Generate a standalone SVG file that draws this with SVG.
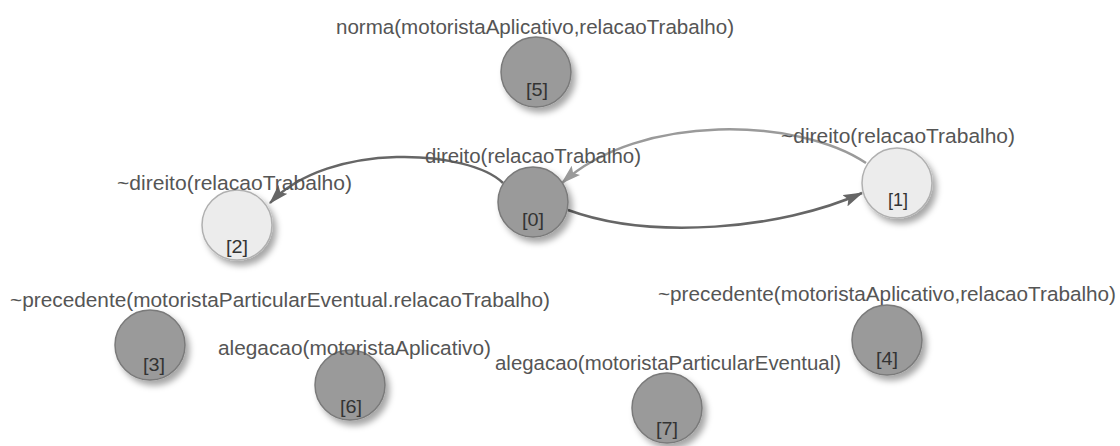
<svg xmlns="http://www.w3.org/2000/svg" width="1120" height="446" viewBox="0 0 1120 446">
<style>
.lbl{font-family:"Liberation Sans",Arial,sans-serif;font-size:20.5px;fill:#555}
.id{font-family:"Liberation Sans",Arial,sans-serif;font-size:18px;fill:#333;text-anchor:middle}
.dark{fill:#9a9a9a;stroke:#7a7a7a;stroke-width:1.5}
.light{fill:#ececec;stroke:#b0b0b0;stroke-width:1.5}
.edge{fill:none;stroke:#666;stroke-width:2.5}
.edge2{fill:none;stroke:#9a9a9a;stroke-width:2.5}
</style>
<defs>
<filter id="sh" x="-50%" y="-50%" width="200%" height="200%">
<feDropShadow dx="4" dy="5" stdDeviation="3" flood-color="#000" flood-opacity="0.35"/>
</filter>
<marker id="ah" viewBox="0 0 16 10" refX="15" refY="5" markerWidth="8" markerHeight="5" orient="auto" markerUnits="strokeWidth">
<path d="M0,0 L16,5 L0,10 L3,5 z" fill="#666"/>
</marker>
<marker id="ah2" viewBox="0 0 16 10" refX="15" refY="5" markerWidth="8" markerHeight="5" orient="auto" markerUnits="strokeWidth">
<path d="M0,0 L16,5 L0,10 L3,5 z" fill="#9a9a9a"/>
</marker>
</defs>
<rect width="1120" height="446" fill="#fff"/>
<g id="connectors">
<path class="edge" d="M503,183 C470,150 330,140 270,203" marker-end="url(#ah)"/>
<path class="edge2" d="M866,163 C800,118 640,112 562,183" marker-end="url(#ah2)"/>
<path class="edge" d="M568,210 C650,240 780,230 862,193" marker-end="url(#ah)"/>
</g>
<g id="node5">
<circle class="dark" cx="536" cy="72" r="35" filter="url(#sh)"/>
<text class="id" x="537" y="96" textLength="22" lengthAdjust="spacingAndGlyphs">[5]</text>
<text class="lbl" x="336" y="34" textLength="398" lengthAdjust="spacingAndGlyphs">norma(motoristaAplicativo,relacaoTrabalho)</text>
</g>
<g id="node0">
<circle class="dark" cx="533" cy="202" r="35" filter="url(#sh)"/>
<text class="id" x="533" y="226" textLength="22" lengthAdjust="spacingAndGlyphs">[0]</text>
<text class="lbl" x="425" y="163" textLength="216" lengthAdjust="spacingAndGlyphs">direito(relacaoTrabalho)</text>
</g>
<g id="node1">
<circle class="light" cx="897" cy="183" r="35" filter="url(#sh)"/>
<text class="id" x="898" y="206" textLength="20" lengthAdjust="spacingAndGlyphs">[1]</text>
<text class="lbl" x="781" y="143" textLength="234" lengthAdjust="spacingAndGlyphs">~direito(relacaoTrabalho)</text>
</g>
<g id="node2">
<circle class="light" cx="237" cy="225" r="35" filter="url(#sh)"/>
<text class="id" x="237" y="253" textLength="22" lengthAdjust="spacingAndGlyphs">[2]</text>
<text class="lbl" x="117" y="190" textLength="235" lengthAdjust="spacingAndGlyphs">~direito(relacaoTrabalho)</text>
</g>
<g id="node3">
<circle class="dark" cx="150" cy="345" r="35" filter="url(#sh)"/>
<text class="id" x="154" y="371" textLength="22" lengthAdjust="spacingAndGlyphs">[3]</text>
<text class="lbl" x="10" y="307" textLength="540" lengthAdjust="spacingAndGlyphs">~precedente(motoristaParticularEventual.relacaoTrabalho)</text>
</g>
<g id="node6">
<circle class="dark" cx="350" cy="385" r="35" filter="url(#sh)"/>
<text class="id" x="351" y="413" textLength="22" lengthAdjust="spacingAndGlyphs">[6]</text>
<text class="lbl" x="218" y="355" textLength="273" lengthAdjust="spacingAndGlyphs">alegacao(motoristaAplicativo)</text>
</g>
<g id="node7">
<circle class="dark" cx="667" cy="408" r="35" filter="url(#sh)"/>
<text class="id" x="667" y="435" textLength="22" lengthAdjust="spacingAndGlyphs">[7]</text>
<text class="lbl" x="495" y="370" textLength="346" lengthAdjust="spacingAndGlyphs">alegacao(motoristaParticularEventual)</text>
</g>
<g id="node4">
<circle class="dark" cx="887" cy="340" r="35" filter="url(#sh)"/>
<text class="id" x="887" y="365" textLength="22" lengthAdjust="spacingAndGlyphs">[4]</text>
<text class="lbl" x="658" y="301" textLength="458" lengthAdjust="spacingAndGlyphs">~precedente(motoristaAplicativo,relacaoTrabalho)</text>
</g>
</svg>
